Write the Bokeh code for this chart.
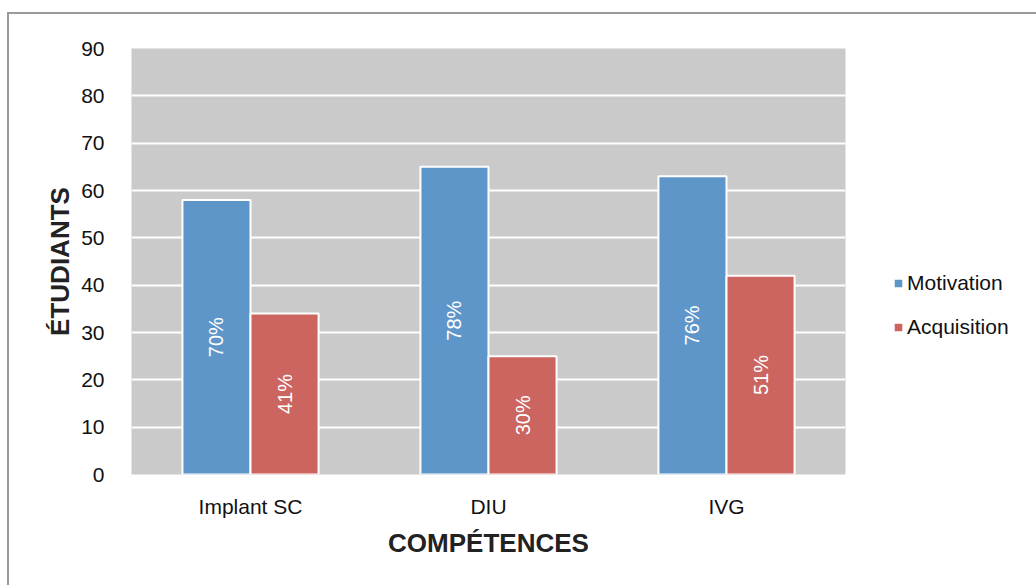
from bokeh.plotting import figure
from bokeh.models import ColumnDataSource, Range1d, FactorRange, Legend, LegendItem, SingleIntervalTicker
from bokeh.transform import dodge
from bokeh.core.properties import value
from bokeh.embed import file_html
from bokeh.resources import INLINE

categories = ["Implant SC", "DIU", "IVG"]
motivation = [58, 65, 63]
acquisition = [34, 25, 42]
motivation_pct = ["70%", "78%", "76%"]
acquisition_pct = ["41%", "30%", "51%"]
series_names = ["Motivation", "Acquisition"]

BLUE = "#5F96C9"
RED = "#CC6560"
FONT = "Liberation Sans"

src = ColumnDataSource(dict(
    cat=categories,
    mot=motivation,
    acq=acquisition,
    mot_mid=[v / 2 for v in motivation],
    acq_mid=[v / 2 for v in acquisition],
    mot_pct=motivation_pct,
    acq_pct=acquisition_pct,
))

SX, SY = 9, 14  # shift of the figure inside the page (outer border)
p = figure(frame_width=714, frame_height=426, x_range=FactorRange(*categories, range_padding=0),
           y_range=Range1d(0, 90), output_backend="svg", toolbar_location=None,
           min_border_left=131 - SX, min_border_right=20, min_border_top=48 - SY, min_border_bottom=111)
p.styles = {"margin-left": "7px", "margin-top": "12px",
            "border-left": "2px solid #9A9A9A", "border-top": "2px solid #9A9A9A"}

p.background_fill_color = "#CACACA"
p.border_fill_color = "white"
p.outline_line_color = None

bw = 0.286
off = 0.143
r1 = p.vbar(x=dodge("cat", -off, range=p.x_range), top="mot", width=bw, source=src,
            fill_color=BLUE, line_color="white", line_width=2)
r2 = p.vbar(x=dodge("cat", off, range=p.x_range), top="acq", width=bw, source=src,
            fill_color=RED, line_color="white", line_width=2)

p.text(x=dodge("cat", -off, range=p.x_range), y="mot_mid", text="mot_pct", source=src,
       angle=1.5708, text_align="center", text_baseline="middle", text_color="white",
       text_font=value(FONT), text_font_size="20px")
p.text(x=dodge("cat", off, range=p.x_range), y="acq_mid", text="acq_pct", source=src,
       angle=1.5708, text_align="center", text_baseline="middle", text_color="white",
       text_font=value(FONT), text_font_size="20px")

p.xgrid.grid_line_color = None
p.ygrid.grid_line_color = "white"
p.ygrid.grid_line_width = 2
p.yaxis.ticker = SingleIntervalTicker(interval=10)

for ax in (p.xaxis, p.yaxis):
    ax.axis_line_color = None
    ax.major_tick_line_color = None
    ax.minor_tick_line_color = None
    ax.major_label_text_font = FONT
    ax.major_label_text_font_size = "21px"
    ax.major_label_text_color = "#111111"
    ax.axis_label_text_font = FONT
    ax.axis_label_text_font_size = "26px"
    ax.axis_label_text_font_style = "bold"
    ax.axis_label_text_color = "#222222"

p.yaxis.axis_label = "ÉTUDIANTS"
p.xaxis.axis_label = "COMPÉTENCES"
p.yaxis.major_label_standoff = 21
p.xaxis.major_label_standoff = 14
p.yaxis.axis_label_standoff = 3
p.xaxis.axis_label_standoff = 7

legend = Legend(items=[LegendItem(label=series_names[0], renderers=[r1]),
                       LegendItem(label=series_names[1], renderers=[r2])],
                location=(47, 135), orientation="vertical")
legend.glyph_width = 12
legend.glyph_height = 12
legend.label_standoff = 3
legend.label_height = 20
legend.spacing = 20
legend.padding = 0
legend.margin = 0
legend.border_line_color = None
legend.background_fill_alpha = 0
legend.label_text_font = FONT
legend.label_text_font_size = "21px"
legend.label_text_color = "#111111"
legend.label_text_baseline = "middle"
p.add_layout(legend, "right")

open("out.html", "w").write(file_html(p, INLINE))
